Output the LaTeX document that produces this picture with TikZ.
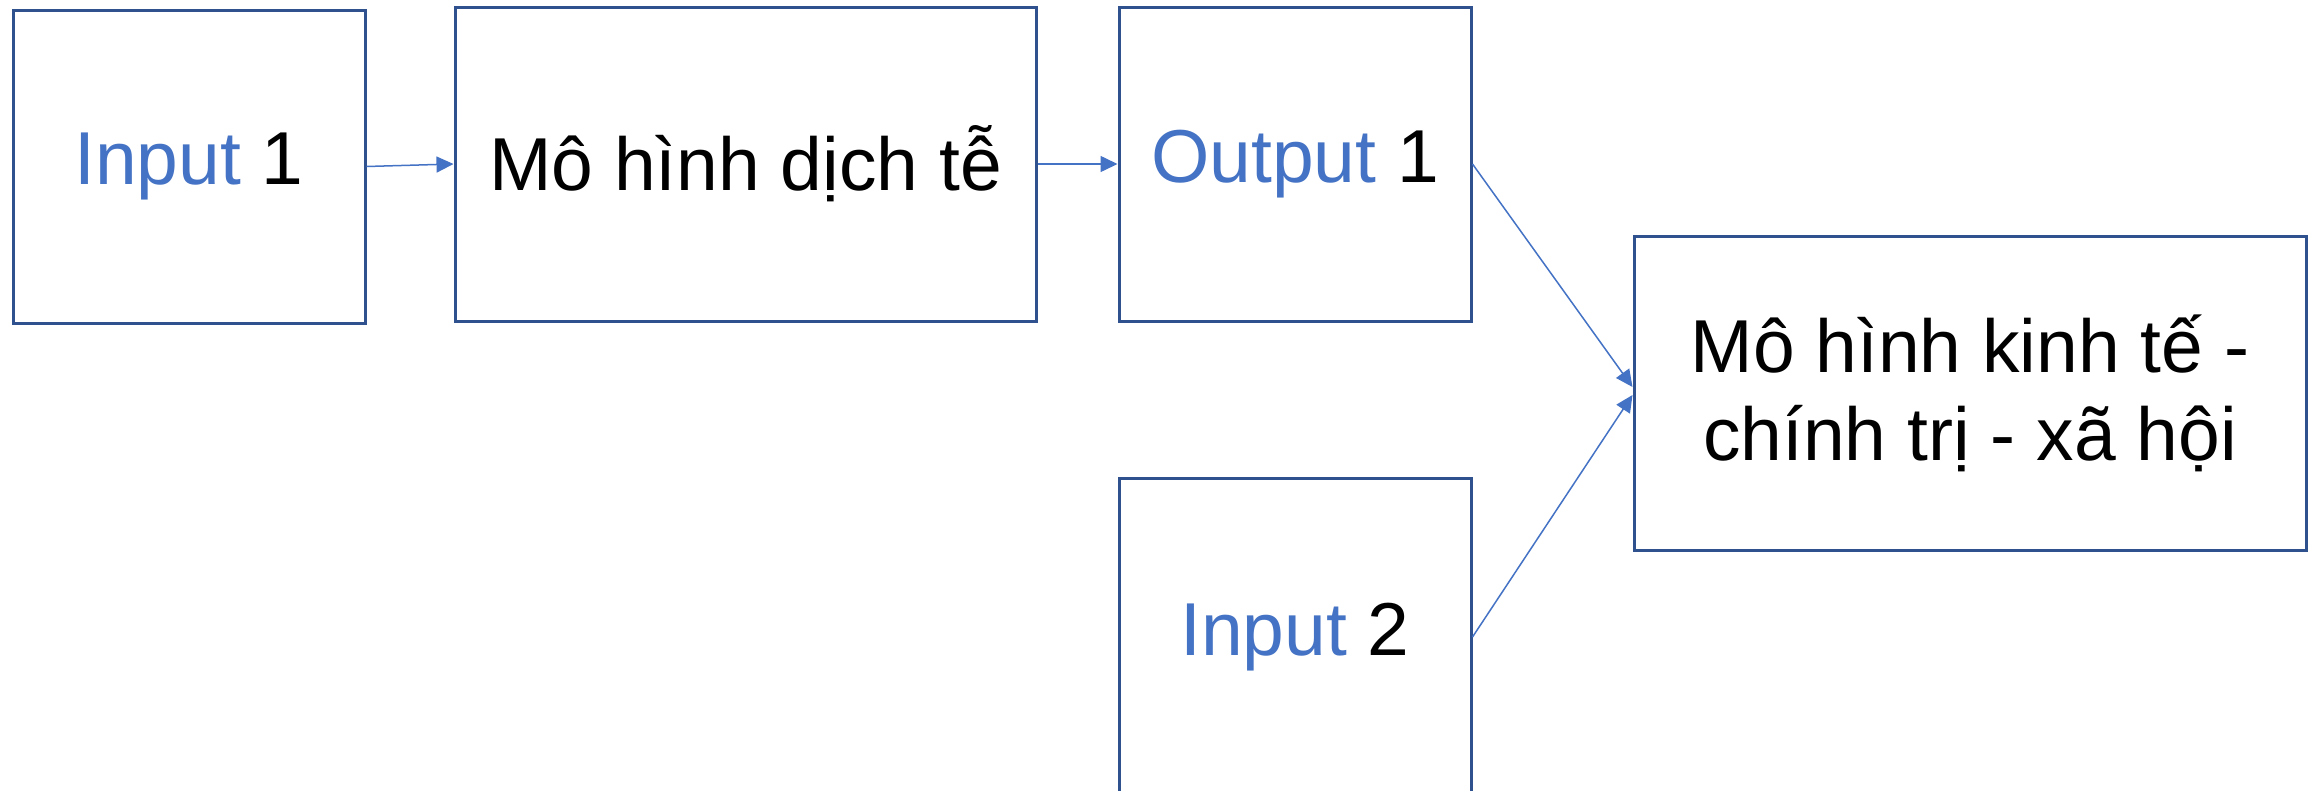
\documentclass[tikz,border=0pt]{standalone}
\usepackage{fontspec}
\setmainfont{Liberation Sans}
\usetikzlibrary{arrows.meta}
\definecolor{boxblue}{HTML}{2F528F}
\definecolor{lineblue}{HTML}{4472C4}
\begin{document}
\begin{tikzpicture}[x=1pt,y=-1pt,
  blk/.style={draw=boxblue, line width=3pt, rectangle, inner sep=0pt,
    font=\fontsize{75}{88}\selectfont, align=center},
  conn/.style={draw=lineblue, line width=1.5pt, -{Triangle[length=17pt,width=16pt]}}]
\useasboundingbox (0,0) rectangle (2310,790);
\fill[white] (0,0) rectangle (2310,790);
\node[blk, minimum width=352pt, minimum height=313pt] (in1) at (189,166.5) {\textcolor{lineblue}{Input} 1};
\node[blk, minimum width=581pt, minimum height=314pt] (mh) at (745.5,164) {Mô hình dịch tễ};
\node[blk, minimum width=352pt, minimum height=314pt] (out1) at (1295,164) {\textcolor{lineblue}{Output} 1};
\node[blk, minimum width=352pt, minimum height=318pt] (in2) at (1295,637) {\textcolor{lineblue}{Input} 2};
\node[blk, minimum width=672pt, minimum height=314pt] (kt) at (1970,393) {Mô hình kinh tế -\\chính trị - xã hội};
\draw[conn] (in1.east) -- (mh.west);
\draw[conn] (mh.east) -- (out1.west);
\draw[conn] (out1.east) -- ([yshift=6pt]kt.west);
\draw[conn] (in2.east) -- ([yshift=-2pt]kt.west);
\end{tikzpicture}
\end{document}
